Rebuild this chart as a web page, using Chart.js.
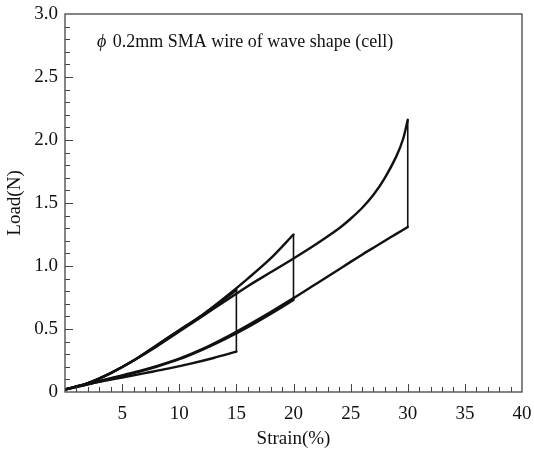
<!DOCTYPE html>
<html>
<head>
<meta charset="utf-8">
<script src="https://cdn.jsdelivr.net/npm/chart.js@4/dist/chart.umd.min.js"></script>
<style>
  html, body { margin: 0; padding: 0; background: #fff; }
  #wrap { width: 534px; height: 454px; }
</style>
</head>
<body>
<div id="wrap"><canvas id="c" width="534" height="454"></canvas></div>
<script>
// strain (%) / load (N), one array pair per branch
const load15X = [0, 2, 4, 6, 8, 10, 12, 14, 15];
const load15Y = [0.02, 0.07, 0.15, 0.25, 0.37, 0.49, 0.61, 0.74, 0.81];
const unload15X = [15, 13, 11, 9, 7, 5, 3, 1, 0];
const unload15Y = [0.32, 0.27, 0.225, 0.185, 0.15, 0.115, 0.08, 0.04, 0.02];

const load20X = [0, 2, 4, 6, 8, 10, 12, 14, 16, 18, 20];
const load20Y = [0.02, 0.07, 0.15, 0.25, 0.37, 0.49, 0.61, 0.75, 0.90, 1.06, 1.25];
const unload20X = [20, 18, 16, 14, 12, 10, 8, 6, 4, 2, 0];
const unload20Y = [0.73, 0.62, 0.515, 0.42, 0.335, 0.26, 0.20, 0.15, 0.105, 0.06, 0.02];

const load30X = [0, 2, 4, 6, 8, 10, 12, 14, 16, 18, 20, 22, 24, 25, 26, 27, 28, 29, 29.6, 30];
const load30Y = [0.02, 0.07, 0.15, 0.25, 0.36, 0.48, 0.60, 0.72, 0.84, 0.95, 1.06, 1.175, 1.30, 1.375, 1.46, 1.565, 1.70, 1.87, 2.01, 2.16];
const unload30X = [30, 29, 28, 27, 26, 24, 22, 20, 18, 16, 14, 12, 10, 8, 6, 4, 2, 0];
const unload30Y = [1.31, 1.255, 1.20, 1.145, 1.09, 0.975, 0.86, 0.745, 0.635, 0.53, 0.43, 0.34, 0.265, 0.205, 0.155, 0.11, 0.065, 0.02];

const xTicks = [5, 10, 15, 20, 25, 30, 35, 40];
const yTickLabels = ['0', '0.5', '1.0', '1.5', '2.0', '2.5', '3.0'];
const noteText = '0.2mm SMA wire of wave shape (cell)';

const pts = (xs, ys) => xs.map((x, i) => ({ x, y: ys[i] }));
// vertical drop at the end of loading: last loading point to first unloading point
const drop = (lx, ly, ux, uy) => [
  { x: lx[lx.length - 1], y: ly[ly.length - 1] },
  { x: ux[0], y: uy[0] },
];

const SERIF = '"Liberation Serif", "Times New Roman", serif';
const INK = '#111';
const AXIS = '#444';
const FS = 19;

const curve = (data) => ({
  data, borderColor: INK, borderWidth: 2.4, pointRadius: 0, tension: 0.3, fill: false,
  borderCapStyle: 'round', borderJoinStyle: 'round',
});
const wire = (data) => ({
  data, borderColor: INK, borderWidth: 1.6, pointRadius: 0, tension: 0, fill: false,
});

// frame, inward ticks and the note inside the plot
const frame = {
  id: 'frame',
  afterDraw(chart) {
    const { ctx, chartArea: a, scales: { x, y } } = chart;
    ctx.save();
    ctx.strokeStyle = AXIS;
    ctx.lineWidth = 1.3;
    ctx.strokeRect(a.left, a.top, a.right - a.left, a.bottom - a.top);
    ctx.lineWidth = 1;
    ctx.beginPath();
    for (let v = 1; v < 40; v++) {
      const px = Math.round(x.getPixelForValue(v)) + 0.5;
      const len = v % 5 === 0 ? 8 : 5;
      ctx.moveTo(px, a.bottom); ctx.lineTo(px, a.bottom - len);
    }
    for (let k = 1; k < 30; k++) {
      const py = Math.round(y.getPixelForValue(k / 10)) + 0.5;
      const len = k % 5 === 0 ? 8 : 5;
      ctx.moveTo(a.left, py); ctx.lineTo(a.left + len, py);
    }
    ctx.stroke();

    ctx.fillStyle = INK;
    ctx.textBaseline = 'alphabetic';
    ctx.font = 'italic 18px ' + SERIF;
    ctx.fillText('\u03d5', 97, 47);
    const w = ctx.measureText('\u03d5 ').width;
    ctx.font = '18px ' + SERIF;
    ctx.fillText(noteText, 97 + w + 2, 47);
    ctx.restore();
  }
};

new Chart(document.getElementById('c'), {
  type: 'line',
  data: {
    datasets: [
      curve(pts(load15X, load15Y)), wire(drop(load15X, load15Y, unload15X, unload15Y)), curve(pts(unload15X, unload15Y)),
      curve(pts(load20X, load20Y)), wire(drop(load20X, load20Y, unload20X, unload20Y)), curve(pts(unload20X, unload20Y)),
      curve(pts(load30X, load30Y)), wire(drop(load30X, load30Y, unload30X, unload30Y)), curve(pts(unload30X, unload30Y)),
    ],
  },
  options: {
    responsive: false,
    animation: false,
    layout: { padding: { top: 14, right: 12, left: 0, bottom: 0 } },
    plugins: { legend: { display: false }, tooltip: { enabled: false } },
    scales: {
      x: {
        type: 'linear', min: 0, max: 40,
        afterBuildTicks: (s) => { s.ticks = xTicks.map(v => ({ value: v })); },
        ticks: { color: INK, font: { family: SERIF, size: FS }, padding: 11, maxRotation: 0, autoSkip: false },
        grid: { display: false, drawTicks: false },
        border: { display: false },
        title: { display: true, text: 'Strain(%)', color: INK, font: { family: SERIF, size: FS }, padding: { top: 6 } },
        afterFit: (s) => { s.height = 62; s.paddingLeft = 0; s.paddingRight = 0; },
      },
      y: {
        type: 'linear', min: 0, max: 3,
        afterBuildTicks: (s) => { s.ticks = yTickLabels.map((t, i) => ({ value: i * 0.5 })); },
        ticks: {
          color: INK, font: { family: SERIF, size: FS }, padding: 7, autoSkip: false,
          callback: (v, i) => yTickLabels[i],
        },
        grid: { display: false, drawTicks: false },
        border: { display: false },
        title: { display: true, text: 'Load(N)', color: INK, font: { family: SERIF, size: FS }, padding: { bottom: 0 } },
        afterFit: (s) => { s.width = 65; s.paddingTop = 0; s.paddingBottom = 0; },
      },
    },
  },
  plugins: [frame],
});
</script>
</body>
</html>
